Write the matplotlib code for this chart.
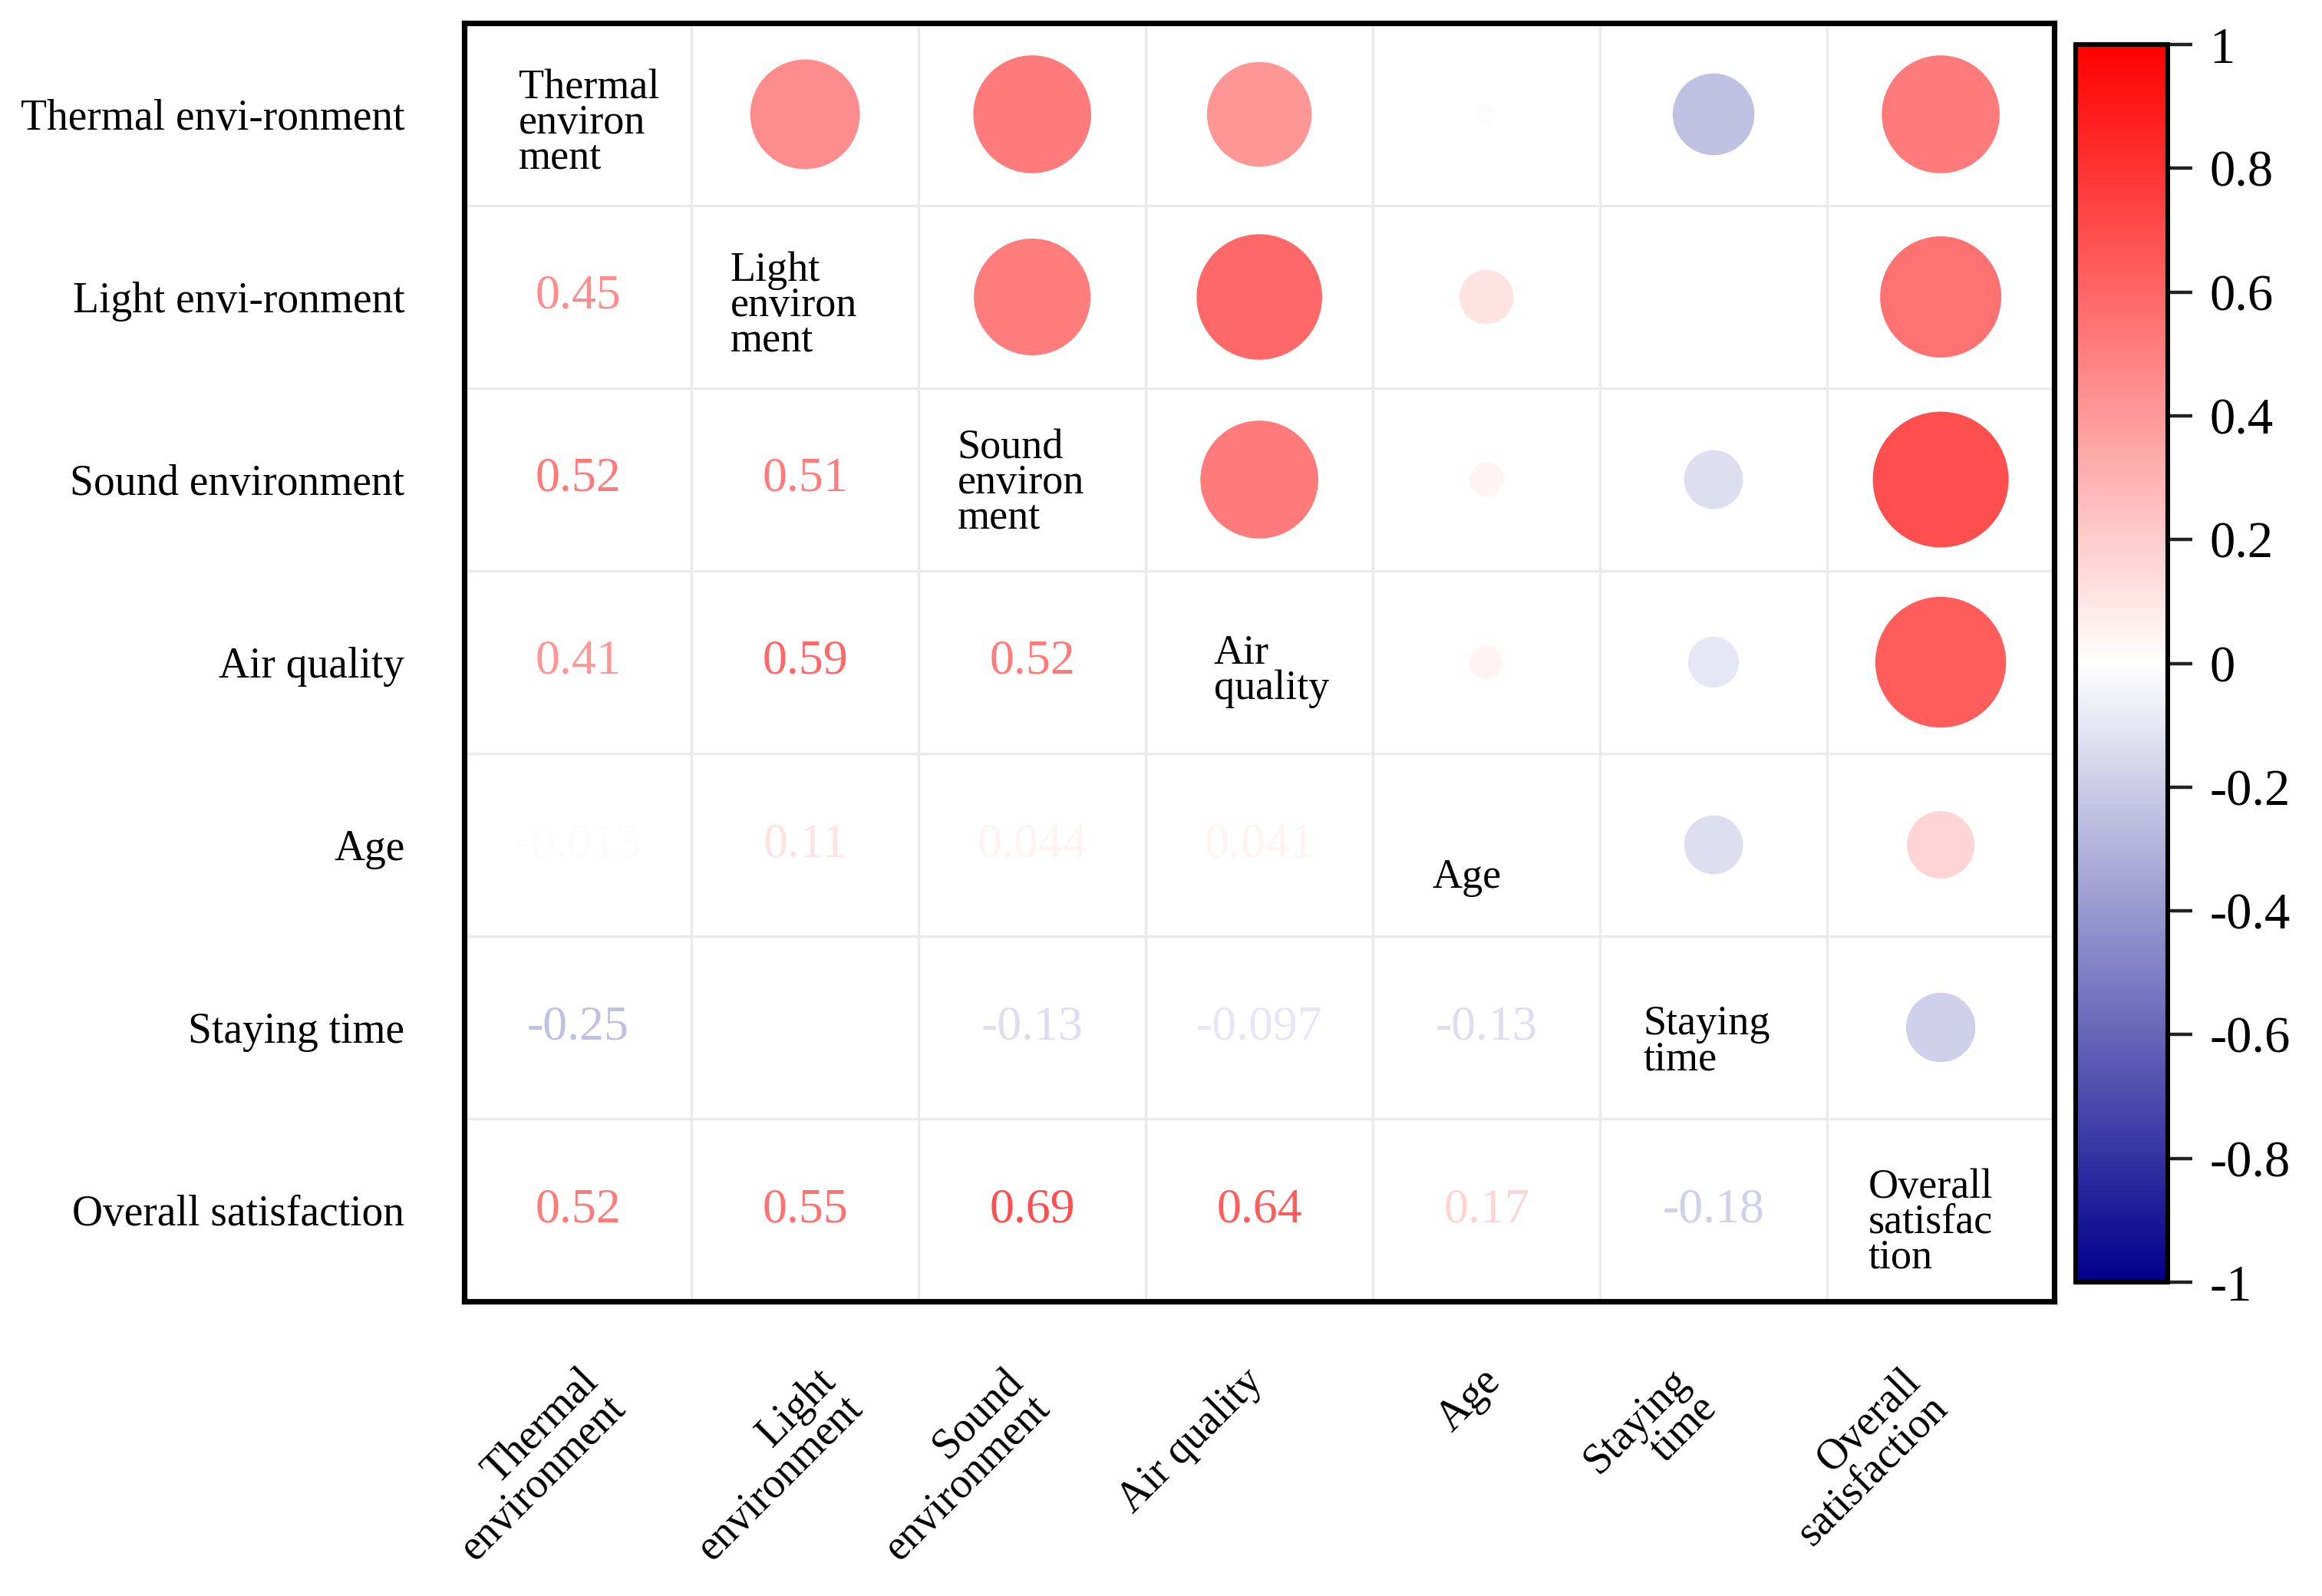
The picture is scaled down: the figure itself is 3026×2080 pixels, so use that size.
import matplotlib
matplotlib.use("Agg")
import matplotlib.pyplot as plt
import numpy as np
from matplotlib.colors import LinearSegmentedColormap, Normalize
from matplotlib.cm import ScalarMappable
from matplotlib.transforms import ScaledTranslation

plt.rcParams['font.family'] = ['Liberation Serif', 'DejaVu Serif']

# variables (rows / columns of the matrix)
row_labels = ["Thermal envi-ronment", "Light envi-ronment", "Sound environment",
              "Air quality", "Age", "Staying time", "Overall satisfaction"]
col_labels = ["Thermal\nenvironment", "Light\nenvironment", "Sound\nenvironment",
              "Air quality", "Age", "Staying\ntime", "Overall\nsatisfaction"]
diag_labels = ["Thermal\nenviron\nment", "Light\nenviron\nment", "Sound\nenviron\nment",
               "Air\nquality", "Age", "Staying\ntime", "Overall\nsatisfac\ntion"]

# lower triangle of the correlation matrix, row by row (None = not shown)
lower_tri = [
    [],
    [0.45],
    [0.52, 0.51],
    [0.41, 0.59, 0.52],
    [-0.013, 0.11, 0.044, 0.041],
    [-0.25, None, -0.13, -0.097, -0.13],
    [0.52, 0.55, 0.69, 0.64, 0.17, -0.18],
]

cbar_ticks = [1, 0.8, 0.6, 0.4, 0.2, 0, -0.2, -0.4, -0.6, -0.8, -1]

n = len(row_labels)
corr = np.full((n, n), np.nan)
for i, row in enumerate(lower_tri):
    for j, v in enumerate(row):
        if v is not None:
            corr[i, j] = v
            corr[j, i] = v

cmap = LinearSegmentedColormap.from_list("bwr_dark", ["#00008B", "white", "#FF0000"])
norm = Normalize(-1, 1)

# label placement inside diagonal cells (fraction of cell)
diag_offsets = [(0.24, 0.05), (0.17, 0.05), (0.17, 0.02), (0.30, 0.05),
                (0.26, 0.18), (0.19, 0.08), (0.18, 0.07)]
# horizontal nudges of the rotated column labels (points)
xlab_nudge = [0, 5, -14, -8, -3, -21, -19]

fig = plt.figure(figsize=(15.13, 10.4), dpi=200)
ax = fig.add_axes([0.2, 0.1846, 0.6847, 0.801])
cax = fig.add_axes([0.894, 0.1966, 0.0397, 0.7755])

ax.set_xlim(0, n)
ax.set_ylim(n, 0)

for k in range(1, n):
    ax.axhline(k, color='#EAEAEA', lw=1.2, zorder=1)
    ax.axvline(k, color='#EAEAEA', lw=1.2, zorder=1)

# upper triangle: circles
xs, ys, ss, cs = [], [], [], []
for i in range(n):
    for j in range(i + 1, n):
        v = corr[i, j]
        if np.isnan(v):
            continue
        xs.append(j + 0.5)
        ys.append(i + 0.5)
        ss.append(5880 * abs(v))
        cs.append(v)
ax.scatter(xs, ys, s=ss, c=cs, cmap=cmap, norm=norm, edgecolors='none', zorder=3)

# lower triangle: numbers
for i in range(n):
    for j in range(i):
        v = corr[i, j]
        if np.isnan(v):
            continue
        ax.text(j + 0.5, i + 0.5, f"{v:.2g}", ha='center', va='center',
                fontsize=23, color=cmap(norm(v)), zorder=3)

# diagonal: variable names
for k, lab in enumerate(diag_labels):
    dx, dy = diag_offsets[k]
    ax.text(k + dx, k + 0.5 + dy, lab, ha='left', va='center', fontsize=19.5,
            linespacing=0.88, color='black', zorder=4,
            bbox=dict(facecolor='white', edgecolor='none', pad=10))

# rotated column labels under the matrix
ax.set_xticks([])
for k, lab in enumerate(col_labels):
    tr = ax.get_xaxis_transform() + ScaledTranslation(xlab_nudge[k] / 72, -28 / 72,
                                                      fig.dpi_scale_trans)
    ax.text(k + 0.5, 0, lab, transform=tr, rotation=45, ha='right', va='top',
            rotation_mode='anchor', multialignment='right', fontsize=20,
            linespacing=0.95)

ax.set_yticks(np.arange(n) + 0.5)
ax.set_yticklabels(row_labels, fontsize=20)
ax.tick_params(axis='y', length=0, pad=28)
for sp in ax.spines.values():
    sp.set_linewidth(2.6)
    sp.set_color('black')

sm = ScalarMappable(norm=norm, cmap=cmap)
cb = fig.colorbar(sm, cax=cax, ticks=cbar_ticks)
cb.ax.set_yticklabels([f"{t:g}" for t in cbar_ticks])
cb.ax.tick_params(length=11.5, width=1.6, labelsize=24, pad=8, color='#222222')
cb.outline.set_linewidth(2.2)

fig.savefig("out.png", dpi=200, facecolor='white')
